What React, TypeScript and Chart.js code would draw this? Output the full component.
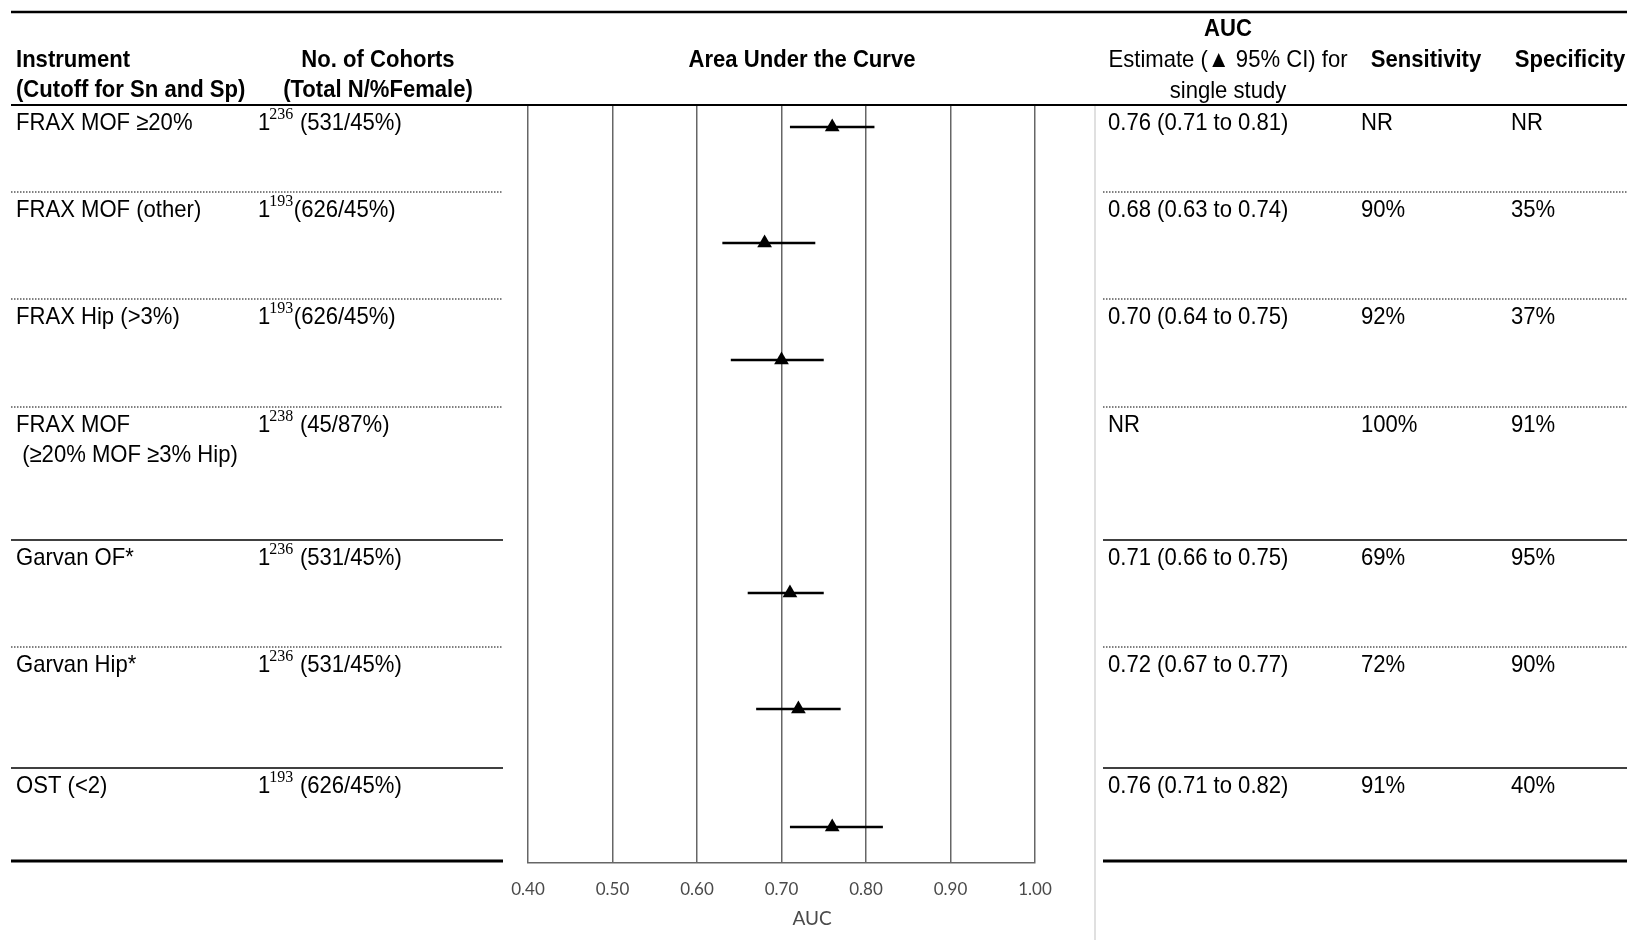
import React, { useEffect, useRef } from "react";
import { Chart, registerables } from "chart.js";

Chart.register(...registerables);

// ---------- data ----------
const instruments = [
  "FRAX MOF ≥20%",
  "FRAX MOF (other)",
  "FRAX Hip (>3%)",
  "FRAX MOF",
  "Garvan OF*",
  "Garvan Hip*",
  "OST (<2)",
];
const instrumentSubline = ["", "", "", " (≥20% MOF ≥3% Hip)", "", "", ""];
const cohortCounts = ["1", "1", "1", "1", "1", "1", "1"];
const cohortRefs = ["236", "193", "193", "238", "236", "236", "193"];
const cohortTotals = [" (531/45%)", "(626/45%)", "(626/45%)", " (45/87%)", " (531/45%)", " (531/45%)", " (626/45%)"];
const aucEstimate: (number | null)[] = [0.76, 0.68, 0.7, null, 0.71, 0.72, 0.76];
const aucLower: (number | null)[] = [0.71, 0.63, 0.64, null, 0.66, 0.67, 0.71];
const aucUpper: (number | null)[] = [0.81, 0.74, 0.75, null, 0.75, 0.77, 0.82];
const sensitivity = ["NR", "90%", "92%", "100%", "69%", "72%", "91%"];
const specificity = ["NR", "35%", "37%", "91%", "95%", "90%", "40%"];
const xTickValues = [0.4, 0.5, 0.6, 0.7, 0.8, 0.9, 1.0];

// ---------- layout ----------
const W = 1627;
const H = 940;
const PLOT_LEFT = 528;
const PLOT_RIGHT = 1035;
const PLOT_TOP = 105;
const PLOT_BOTTOM = 863;
const rowTops = [105, 192, 299, 407, 540, 647, 768];
const TABLE_BOTTOM = 861;
const rowLineStyles = ["dotted", "dotted", "dotted", "solid", "dotted", "solid"];
const markerOffsets = [22, 51, 61, 0, 53, 62, 59];
const LEFT_END = 503;
const RIGHT_START = 1103;

const SANS = '"Liberation Sans", Arial, "DejaVu Sans", sans-serif';
const SERIF = '"Liberation Serif", "Times New Roman", serif';
const TICK_FONT = 'Lato, "Open Sans", sans-serif';
const SX = 0.92;

function drawText(
  ctx: CanvasRenderingContext2D,
  text: string,
  x: number,
  y: number,
  opts: { bold?: boolean; size?: number; align?: CanvasTextAlign; family?: string; sx?: number; color?: string } = {}
) {
  const { bold = false, size = 24, align = "left", family = SANS, sx = SX, color = "#000" } = opts;
  ctx.save();
  ctx.font = `${bold ? "bold " : ""}${size}px ${family}`;
  ctx.textAlign = align;
  ctx.textBaseline = "alphabetic";
  ctx.fillStyle = color;
  ctx.translate(x, y);
  ctx.scale(sx, 1);
  ctx.fillText(text, 0, 0);
  const w = ctx.measureText(text).width * sx;
  ctx.restore();
  return w;
}

function hline(ctx: CanvasRenderingContext2D, x1: number, x2: number, y: number, width: number, dotted = false, color = "#000") {
  ctx.save();
  ctx.strokeStyle = color;
  ctx.lineWidth = width;
  if (dotted) ctx.setLineDash([1.5, 1.5]);
  ctx.beginPath();
  ctx.moveTo(x1, y);
  ctx.lineTo(x2, y);
  ctx.stroke();
  ctx.restore();
}

const markerY = rowTops.map((t, i) => t + markerOffsets[i]);

const tablePlugin = {
  id: "tablePlugin",
  beforeDatasetsDraw(chart: any) {
    const ctx: CanvasRenderingContext2D = chart.ctx;
    const xs = chart.scales.x;
    const ys = chart.scales.y;
    // error bars
    ctx.save();
    ctx.strokeStyle = "#000";
    ctx.lineWidth = 2.5;
    aucEstimate.forEach((v, i) => {
      if (v == null || aucLower[i] == null || aucUpper[i] == null) return;
      const y = ys.getPixelForValue(markerY[i]);
      ctx.beginPath();
      ctx.moveTo(xs.getPixelForValue(aucLower[i] as number), y);
      ctx.lineTo(xs.getPixelForValue(aucUpper[i] as number), y);
      ctx.stroke();
    });
    ctx.restore();
  },
  afterDraw(chart: any) {
    const ctx: CanvasRenderingContext2D = chart.ctx;
    // top rules
    hline(ctx, 11, W, 12, 2.5);
    hline(ctx, 11, W, 105, 2);
    // vertical separator
    ctx.save();
    ctx.strokeStyle = "#d6d6d6";
    ctx.lineWidth = 1.5;
    ctx.beginPath();
    ctx.moveTo(1095, 106);
    ctx.lineTo(1095, H);
    ctx.stroke();
    ctx.restore();
    // row separators
    rowLineStyles.forEach((s, k) => {
      const y = rowTops[k + 1];
      const dotted = s === "dotted";
      const lw = dotted ? 1 : 1.6;
      hline(ctx, 11, LEFT_END, y, lw, dotted);
      hline(ctx, RIGHT_START, W, y, lw, dotted);
    });
    hline(ctx, 11, LEFT_END, TABLE_BOTTOM, 3);
    hline(ctx, RIGHT_START, W, TABLE_BOTTOM, 3);

    // headers
    drawText(ctx, "Instrument", 16, 67, { bold: true });
    drawText(ctx, "(Cutoff for Sn and Sp)", 16, 97, { bold: true });
    drawText(ctx, "No. of Cohorts", 378, 67, { bold: true, align: "center" });
    drawText(ctx, "(Total N/%Female)", 378, 97, { bold: true, align: "center" });
    drawText(ctx, "Area Under the Curve", 802, 67, { bold: true, align: "center" });
    drawText(ctx, "AUC", 1228, 36, { bold: true, align: "center" });
    drawText(ctx, "Estimate (▲ 95% CI) for", 1228, 67, { align: "center" });
    drawText(ctx, "single study", 1228, 98, { align: "center" });
    drawText(ctx, "Sensitivity", 1426, 67, { bold: true, align: "center" });
    drawText(ctx, "Specificity", 1570, 67, { bold: true, align: "center" });

    // rows
    instruments.forEach((name, i) => {
      const base = rowTops[i] + 25;
      drawText(ctx, name, 16, base);
      if (instrumentSubline[i]) drawText(ctx, instrumentSubline[i], 16, base + 30);
      // cohorts
      let x = 258;
      x += drawText(ctx, cohortCounts[i], x, base);
      x -= 1;
      x += drawText(ctx, cohortRefs[i], x, base - 11, { family: SERIF, size: 16, sx: 1 });
      drawText(ctx, cohortTotals[i], x + 0.5, base);
      // right table
      const est = aucEstimate[i];
      const aucText =
        est == null
          ? "NR"
          : `${est.toFixed(2)} (${(aucLower[i] as number).toFixed(2)} to ${(aucUpper[i] as number).toFixed(2)})`;
      drawText(ctx, aucText, 1108, base);
      drawText(ctx, sensitivity[i], 1361, base);
      drawText(ctx, specificity[i], 1511, base);
    });

    // axis title
    ctx.save();
    ctx.font = `19px ${TICK_FONT}`;
    ctx.fillStyle = "#4a4a4a";
    ctx.textAlign = "center";
    ctx.textBaseline = "middle";
    ctx.fillText("AUC", 812, 919);
    ctx.restore();
  },
};

export default function App() {
  const canvasRef = useRef<HTMLCanvasElement | null>(null);

  useEffect(() => {
    const canvas = canvasRef.current;
    if (!canvas) return;
    const points = aucEstimate
      .map((v, i) => (v == null ? null : { x: v, y: markerY[i] }))
      .filter((p) => p !== null) as { x: number; y: number }[];

    const chart = new Chart(canvas, {
      type: "scatter",
      data: {
        datasets: [
          {
            data: points,
            pointStyle: "triangle",
            pointRadius: 8.5,
            pointHoverRadius: 8.5,
            backgroundColor: "#000",
            borderColor: "#000",
            borderWidth: 0,
          },
        ],
      },
      options: {
        animation: false,
        responsive: false,
        maintainAspectRatio: false,
        devicePixelRatio: 1,
        layout: { padding: { left: PLOT_LEFT, right: W - PLOT_RIGHT, top: PLOT_TOP, bottom: 0 } },
        plugins: { legend: { display: false }, tooltip: { enabled: false } },
        events: [],
        scales: {
          x: {
            type: "linear",
            min: 0.4,
            max: 1.0,
            afterBuildTicks: (scale: any) => {
              scale.ticks = xTickValues.map((v) => ({ value: v }));
            },
            afterFit: (scale: any) => {
              scale.height = H - PLOT_BOTTOM;
            },
            ticks: {
              autoSkip: false,
              maxRotation: 0,
              padding: 16,
              color: "#4a4a4a",
              font: { family: TICK_FONT, size: 17 },
              callback: (v: any) => Number(v).toFixed(2),
            },
            grid: { color: "#666666", lineWidth: 1.5, drawTicks: false },
            border: { display: true, color: "#666666", width: 1.5 },
          },
          y: {
            type: "linear",
            min: PLOT_TOP,
            max: PLOT_BOTTOM,
            reverse: true,
            display: false,
          },
        },
      } as any,
      plugins: [tablePlugin],
    });
    return () => chart.destroy();
  }, []);

  return (
    <div style={{ position: "absolute", left: 0, top: 0, width: W, height: H, background: "#fff" }}>
      <canvas ref={canvasRef} width={W} height={H} style={{ display: "block", width: W, height: H }} />
    </div>
  );
}
